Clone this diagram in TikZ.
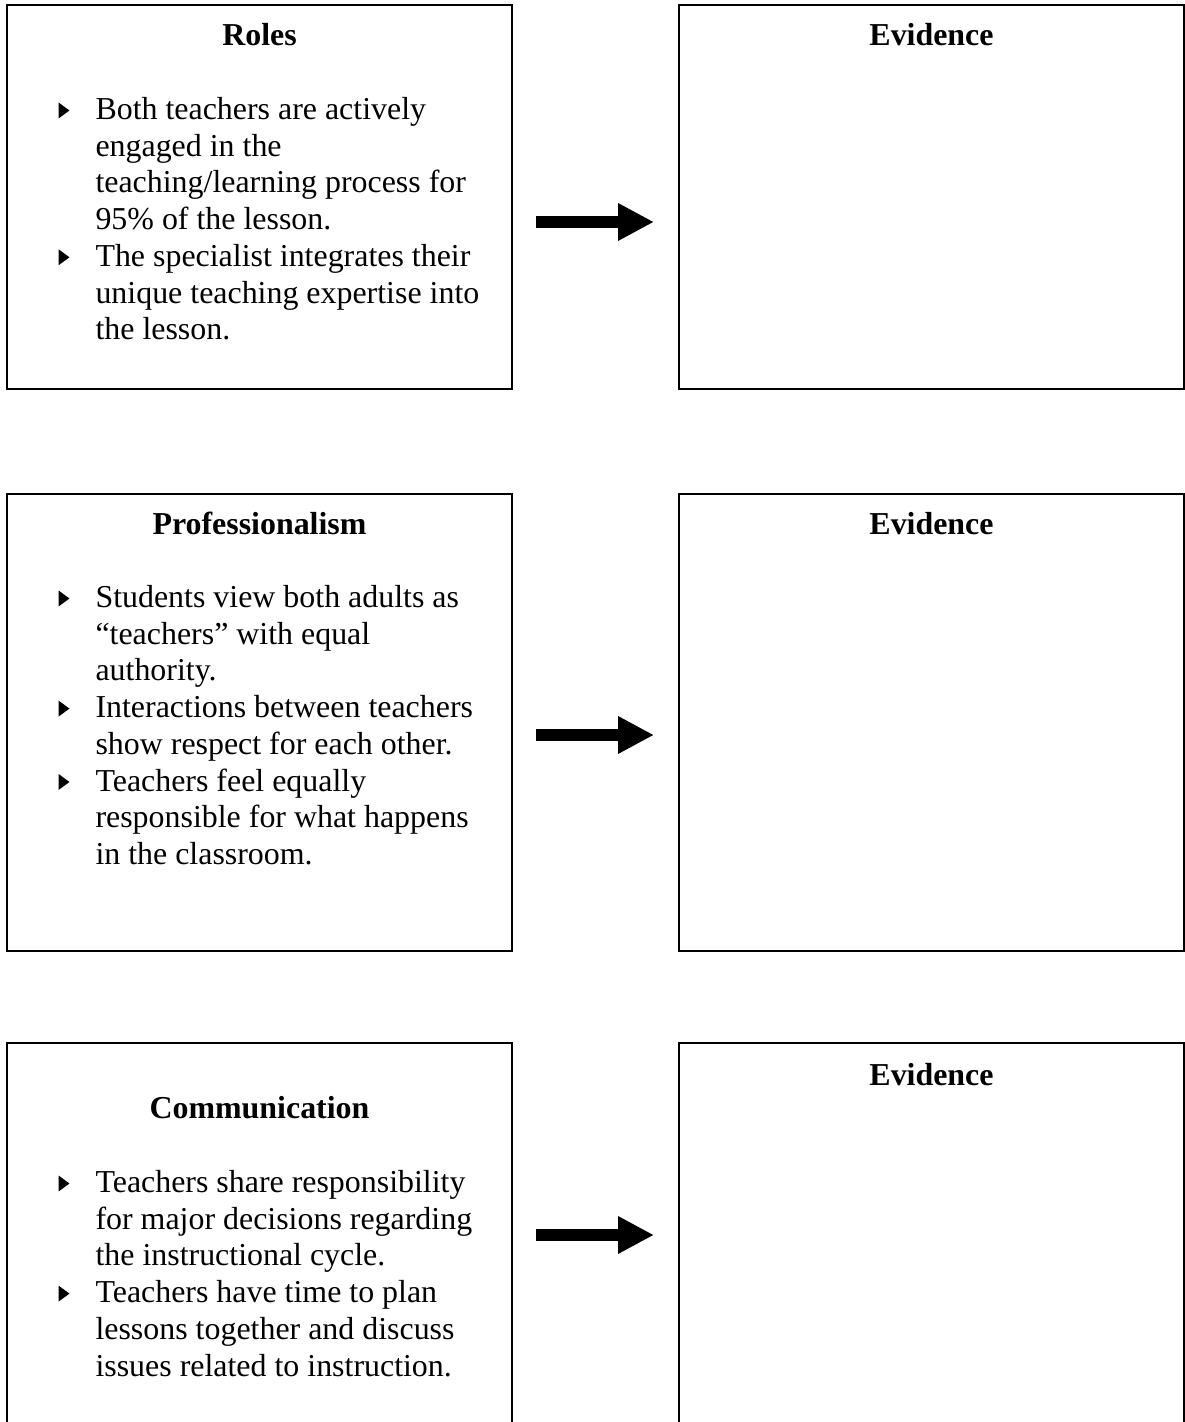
\documentclass[tikz,border=0pt]{standalone}
\usepackage{fontspec}
\setmainfont{Liberation Serif}
\usetikzlibrary{arrows.meta,calc}

\newcommand\pointer{\llap{\makebox[13.9pt][l]{\tikz[baseline=-0.4pt]\fill (0,0) -- (0,6pt) -- (4.1pt,3pt) -- cycle;}}}

\tikzset{
  panel/.style={draw, line width=0.75pt, minimum width=189.9pt, inner sep=0pt},
  heading/.style={font=\fontsize{12}{13.8}\selectfont\bfseries, anchor=base, inner sep=0pt},
  points/.style={font=\fontsize{12}{13.8}\selectfont, align=left, anchor=north west, inner sep=0pt},
  fatarrow/.style={line width=4.5pt, -{Triangle[length=13.5pt, width=13.2pt]}}
}

\begin{document}
\begin{tikzpicture}[x=0.376pt, y=-0.376pt]
\useasboundingbox (0,0) rectangle (1185,1422);

% roles
\node[panel, minimum height=144.4pt] (roles) at (259.5,197) {};
\node[panel, minimum height=144.4pt] (ev1) at (931.5,197) {};
\node[heading] (rolesT) at (259.5,46) {Roles};
\node[heading] (ev1T) at (931.5,46) {Evidence};
\node[points] (rolesL) at (95,93.3) {\strut\pointer Both teachers are actively\\
  engaged in the\\ teaching/learning process for\\ 95\% of the lesson.\\
  \pointer The specialist integrates their\\ unique teaching expertise into\\ the lesson.};
\draw[fatarrow] ($(roles.east)+(23,25)$) -- ($(ev1.west)+(-24,25)$);

% professionalism
\node[panel, minimum height=171.8pt] (prof) at (259.5,722.5) {};
\node[panel, minimum height=171.8pt] (ev2) at (931.5,722.5) {};
\node[heading] (profT) at (259.5,535) {Professionalism};
\node[heading] (ev2T) at (931.5,535) {Evidence};
\node[points] (profL) at (95,581.3) {\strut\pointer Students view both adults as\\
  “teachers” with equal\\ authority.\\
  \pointer Interactions between teachers\\ show respect for each other.\\
  \pointer Teachers feel equally\\ responsible for what happens\\ in the classroom.};
\draw[fatarrow] ($(prof.east)+(23,12.5)$) -- ($(ev2.west)+(-24,12.5)$);

% communication
\node[panel, minimum height=171.8pt] (comm) at (259.5,1271.5) {};
\node[panel, minimum height=171.8pt] (ev3) at (931.5,1271.5) {};
\node[heading] (commT) at (259.5,1118) {Communication};
\node[heading] (ev3T) at (931.5,1085) {Evidence};
\node[points] (commL) at (95,1166.3) {\strut\pointer Teachers share responsibility\\
  for major decisions regarding\\ the instructional cycle.\\
  \pointer Teachers have time to plan\\ lessons together and discuss\\ issues related to instruction.};
\draw[fatarrow] ($(comm.east)+(23,-36.5)$) -- ($(ev3.west)+(-24,-36.5)$);
\end{tikzpicture}
\end{document}
